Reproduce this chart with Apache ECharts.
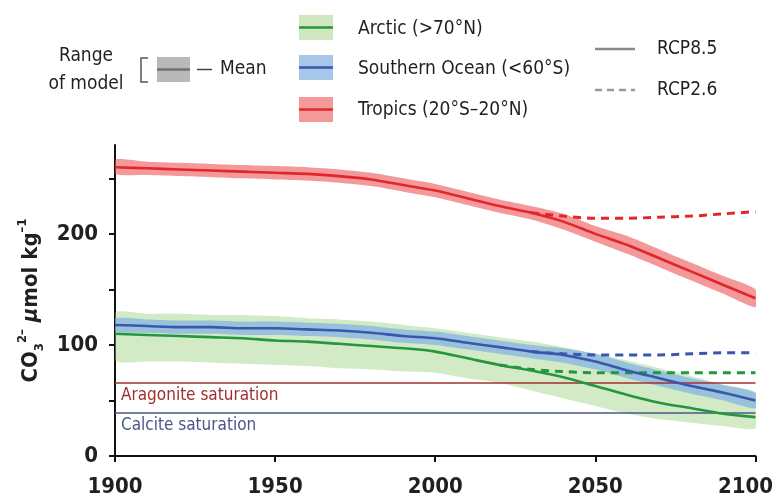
<!DOCTYPE html>
<html><head><meta charset="utf-8">
<script src="https://cdn.jsdelivr.net/npm/echarts@6/dist/echarts.min.js"></script>
<style>html,body{margin:0;padding:0;background:#fff}#c{width:776px;height:499px}</style>
</head><body><div id="c"></div>
<script>
// ---- data ----
const years = [1900,1910,1920,1930,1940,1950,1960,1970,1980,1990,2000,2010,2020,2030,2040,2050,2060,2070,2080,2090,2100];

const tropicsMean = [260,259,258,257,256,255,254,252,249,244,239,232,225,219,211,200,190,178,166,154,142];
const tropicsLow  = [254,253,252,251,250,249,248,246,243,238,233,226,219,213,204,193,182,170,158,146,134];
const tropicsHigh = [267,265,264,263,262,261,260,258,255,250,245,238,231,225,218,207,198,186,174,162,150];

const southernMean = [118,117,116,116,115,115,114,113,111,108,106,102,98,94,91,85,77,70,63,57,50];
const southernLow  = [112,111,110,110,109,109,108,107,105,102,100,96,92,88,84,78,70,63,56,50,43];
const southernHigh = [124,123,122,122,121,121,120,119,117,114,112,108,104,100,97,92,84,77,70,64,57];

const arcticMean = [110,109,108,107,106,104,103,101,99,97,94,88,82,77,71,63,55,48,43,38,35];
const arcticLow  = [86,85,85,84,83,82,81,79,78,76,75,70,66,59,52,45,38,33,30,27,25];
const arcticHigh = [129,128,128,127,127,126,124,123,121,118,115,111,107,103,98,92,86,79,72,64,57];

// RCP2.6 (null before the scenarios diverge)
const tropicsRcp26  = [null,null,null,null,null,null,null,null,null,null,null,null,null,219,216,214,214,215,216,218,220];
const southernRcp26 = [null,null,null,null,null,null,null,null,null,null,null,null,null,94,92,91,91,91,92,93,93];
const arcticRcp26   = [null,null,null,null,null,null,null,null,null,null,null,null,82,78,76,75,75,75,75,75,75];

const aragoniteSaturation = 66;
const calciteSaturation = 39;

const xTicks = [1900,1950,2000,2050,2100];
const yTicks = [0,50,100,150,200,250];
const yLabels = [0,100,200];

// ---- styling ----
const F = "'Liberation Sans Narrow','DejaVu Sans Condensed','Liberation Sans',sans-serif";
const TXT = '#231f20';
const C = {
  arctic:   {line:'#24963e', band:'rgba(150,205,120,0.42)', sw:'#cfe6bf'},
  southern: {line:'#3a56ad', band:'rgba(120,170,230,0.65)', sw:'#a6c6ea'},
  tropics:  {line:'#e3262b', band:'rgba(235,80,80,0.58)',  sw:'#f29a9a'}
};

function pairs(vals){ return years.map((y,i)=>[y, vals[i]]).filter(p=>p[1]!==null); }

function band(name, low, high, color, z){
  const data = years.map((y,i)=>[y, low[i], high[i]]);
  return {
    type:'custom', name, z, silent:true, clip:true,
    data, encode:{x:0, y:[1,2]},
    renderItem(params, api){
      if (params.dataIndex !== 0) return null;
      const pts = [];
      for (let i=0;i<data.length;i++) pts.push(api.coord([data[i][0], data[i][1]]));
      for (let i=data.length-1;i>=0;i--) pts.push(api.coord([data[i][0], data[i][2]]));
      return {type:'polygon', shape:{points:pts, smooth:0.2}, style:{fill:color}};
    }
  };
}
function line(name, vals, color, dashed, z){
  return {
    type:'line', name, z, data:pairs(vals), showSymbol:false, smooth:0.3, silent:true,
    lineStyle:{color, width: dashed?3:2.6, type: dashed?[8,6]:'solid'}
  };
}
function satLine(name, level, color, label){
  return {
    type:'line', name, z:1, data:[], silent:true,
    markLine:{
      silent:true, symbol:'none', animation:false,
      lineStyle:{color, width:1.6, type:'solid'},
      label:{show:true, position:'insideStartBottom', formatter:label, color, fontFamily:F, fontSize:17, distance:[6,4]},
      data:[{yAxis:level}]
    }
  };
}

const chart = echarts.init(document.getElementById('c'));
const LF = '19px '+F;
const graphic = [
  {type:'text', x:86, y:56, style:{text:'Range', font:LF, fill:TXT, textAlign:'center', textVerticalAlign:'middle'}},
  {type:'text', x:86, y:84, style:{text:'of model', font:LF, fill:TXT, textAlign:'center', textVerticalAlign:'middle'}},
  {type:'polyline', shape:{points:[[148,58],[141,58],[141,82],[148,82]]}, style:{stroke:'#555', lineWidth:1.5, fill:null}},
  {type:'rect', shape:{x:157,y:57,width:33,height:25}, style:{fill:'#b9b9b9'}},
  {type:'line', shape:{x1:157,y1:69.5,x2:190,y2:69.5}, style:{stroke:'#707070', lineWidth:2.5}},
  {type:'line', shape:{x1:197,y1:69.5,x2:212,y2:69.5}, style:{stroke:'#444', lineWidth:1.5}},
  {type:'text', x:220, y:69, style:{text:'Mean', font:LF, fill:TXT, textVerticalAlign:'middle'}},

  {type:'rect', shape:{x:299,y:15,width:34,height:25}, style:{fill:C.arctic.sw}},
  {type:'line', shape:{x1:299,y1:27.5,x2:333,y2:27.5}, style:{stroke:C.arctic.line, lineWidth:2.5}},
  {type:'text', x:358, y:29, style:{text:'Arctic (>70°N)', font:LF, fill:TXT, textVerticalAlign:'middle'}},
  {type:'rect', shape:{x:299,y:55,width:34,height:25}, style:{fill:C.southern.sw}},
  {type:'line', shape:{x1:299,y1:67.5,x2:333,y2:67.5}, style:{stroke:C.southern.line, lineWidth:2.5}},
  {type:'text', x:358, y:69, style:{text:'Southern Ocean (<60°S)', font:LF, fill:TXT, textVerticalAlign:'middle'}},
  {type:'rect', shape:{x:299,y:97,width:34,height:25}, style:{fill:C.tropics.sw}},
  {type:'line', shape:{x1:299,y1:109.5,x2:333,y2:109.5}, style:{stroke:C.tropics.line, lineWidth:2.5}},
  {type:'text', x:358, y:110, style:{text:'Tropics (20°S–20°N)', font:LF, fill:TXT, textVerticalAlign:'middle'}},

  {type:'line', shape:{x1:595,y1:49,x2:635,y2:49}, style:{stroke:'#888', lineWidth:2.5}},
  {type:'text', x:657, y:49, style:{text:'RCP8.5', font:LF, fill:TXT, textVerticalAlign:'middle'}},
  {type:'line', shape:{x1:595,y1:90,x2:635,y2:90}, style:{stroke:'#999', lineWidth:2.5, lineDash:[7,5]}},
  {type:'text', x:657, y:90, style:{text:'RCP2.6', font:LF, fill:TXT, textVerticalAlign:'middle'}}
];

chart.setOption({
  animation:false,
  backgroundColor:'#fff',
  grid:{left:115, right:17, top:145, bottom:43},
  xAxis:{
    type:'value', min:1900, max:2100, interval:50,
    axisLine:{lineStyle:{color:'#111', width:2}},
    axisTick:{show:true, length:6, lineStyle:{color:'#111', width:2}, customValues:xTicks},
    axisLabel:{customValues:xTicks, margin:20, color:TXT, fontFamily:F, fontSize:22, fontWeight:'bold',
      formatter:v=> v===2100 ? '{r|2100}' : String(v),
      rich:{r:{fontFamily:F, fontSize:22, fontWeight:'bold', color:TXT, padding:[0,20,0,0]}}},
    splitLine:{show:false}
  },
  yAxis:{
    type:'value', min:0, max:280, interval:50,
    axisLine:{show:true, lineStyle:{color:'#111', width:2}},
    axisTick:{show:true, length:6, lineStyle:{color:'#111', width:2}, customValues:yTicks},
    axisLabel:{customValues:yLabels, margin:17, color:TXT, fontFamily:F, fontSize:22, fontWeight:'bold'},
    splitLine:{show:false},
    name:'{b|CO}{sub|3}{sup|2–} {i|μ}{b|mol kg}{sup|–1}',
    nameLocation:'middle', nameRotate:90, nameGap:66,
    nameTextStyle:{color:TXT, fontFamily:F, fontSize:22, fontWeight:'bold',
      rich:{
        b:{fontFamily:F, fontSize:22, fontWeight:'bold', color:TXT, lineHeight:30, verticalAlign:'middle'},
        i:{fontFamily:F, fontSize:22, fontWeight:'bold', fontStyle:'italic', color:TXT, lineHeight:30, verticalAlign:'middle'},
        sub:{fontFamily:F, fontSize:13, fontWeight:'bold', color:TXT, verticalAlign:'bottom', lineHeight:30},
        sup:{fontFamily:F, fontSize:13, fontWeight:'bold', color:TXT, verticalAlign:'top', lineHeight:30}
      }}
  },
  graphic,
  series:[
    satLine('Aragonite saturation', aragoniteSaturation, '#a0302e', 'Aragonite saturation'),
    satLine('Calcite saturation', calciteSaturation, '#4a5688', 'Calcite saturation'),
    band('Arctic range', arcticLow, arcticHigh, C.arctic.band, 2),
    band('Southern Ocean range', southernLow, southernHigh, C.southern.band, 3),
    band('Tropics range', tropicsLow, tropicsHigh, C.tropics.band, 4),
    line('Arctic RCP2.6', arcticRcp26, C.arctic.line, true, 5),
    line('Southern Ocean RCP2.6', southernRcp26, C.southern.line, true, 5),
    line('Tropics RCP2.6', tropicsRcp26, C.tropics.line, true, 5),
    line('Arctic RCP8.5', arcticMean, C.arctic.line, false, 6),
    line('Southern Ocean RCP8.5', southernMean, C.southern.line, false, 6),
    line('Tropics RCP8.5', tropicsMean, C.tropics.line, false, 6)
  ]
});
</script></body></html>
